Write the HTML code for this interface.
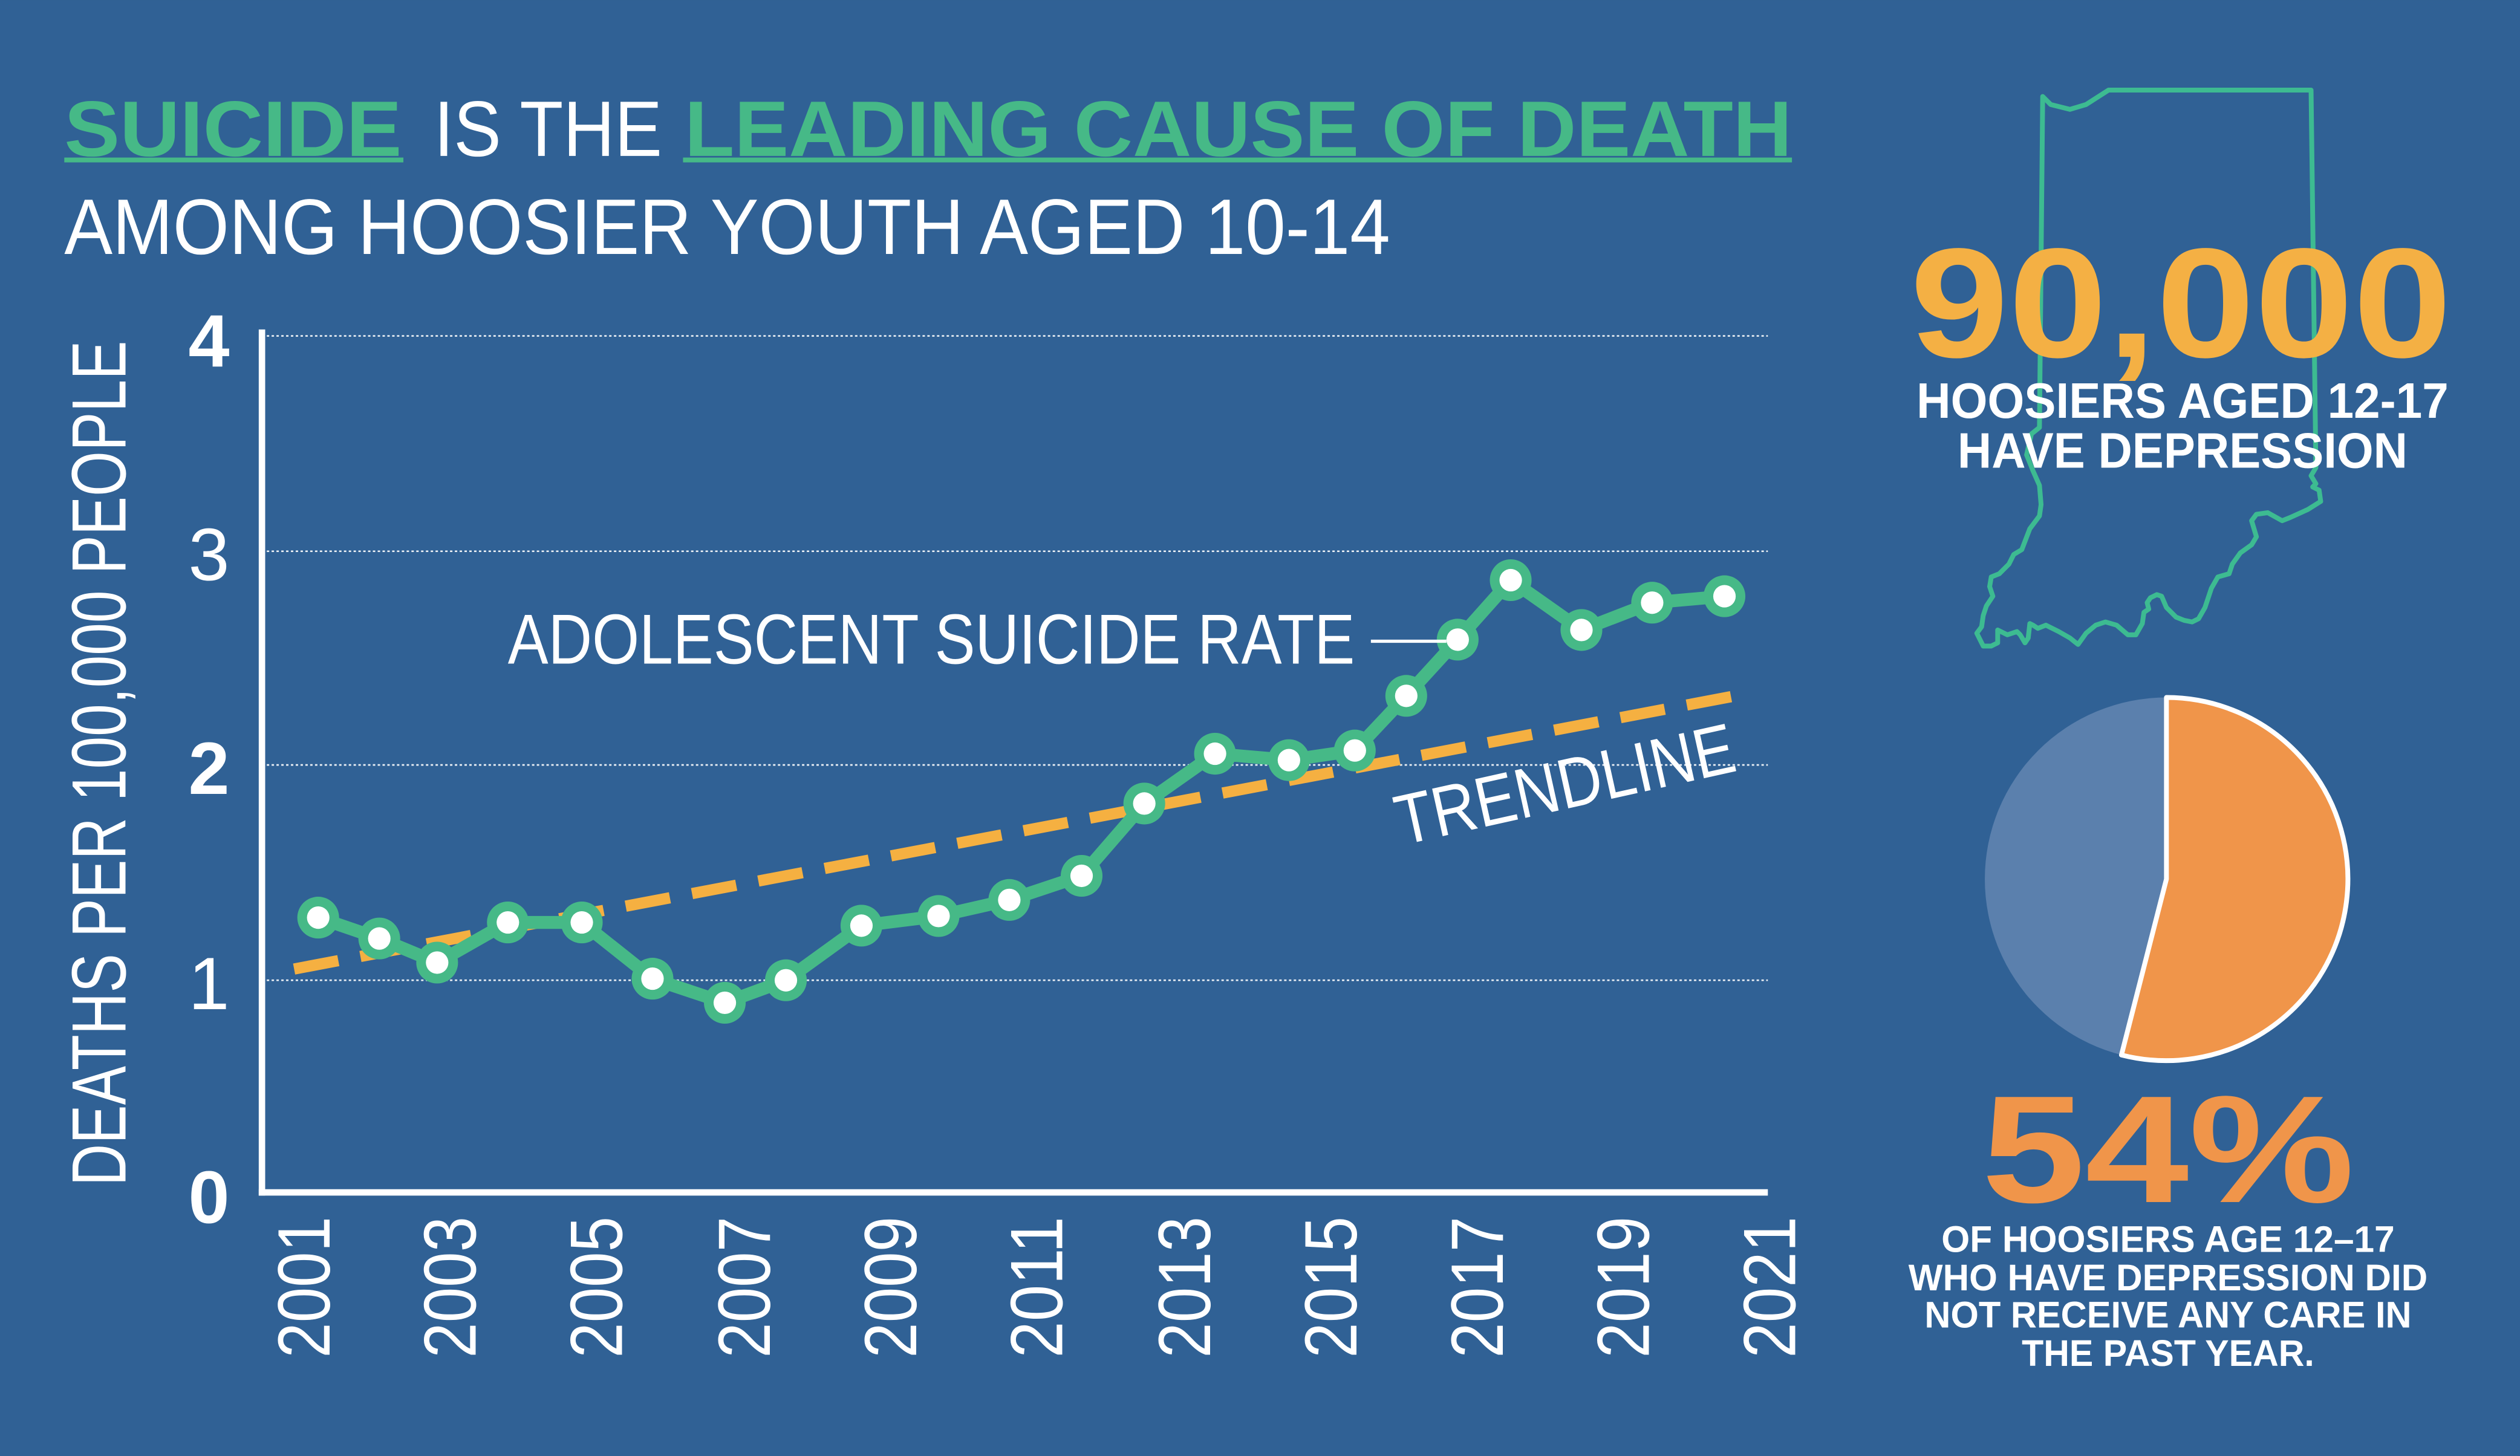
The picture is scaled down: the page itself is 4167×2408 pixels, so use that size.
<!DOCTYPE html>
<html><head><meta charset="utf-8"><style>
html,body{margin:0;padding:0;background:#306195;}
svg{display:block;}
</style></head><body>
<svg width="4167" height="2408" viewBox="0 0 1568 906" xmlns="http://www.w3.org/2000/svg">
<rect width="1568" height="906" fill="#306195"/>
<!-- Title -->
<g font-family="Liberation Sans Narrow, Liberation Sans, sans-serif">
<text x="40" y="97" font-size="49" font-weight="bold" fill="#46b987" textLength="210" lengthAdjust="spacingAndGlyphs">SUICIDE</text>
<text x="270" y="97" font-size="49" fill="#ffffff" textLength="142" lengthAdjust="spacingAndGlyphs">IS THE</text>
<text x="426" y="97" font-size="49" font-weight="bold" fill="#46b987" textLength="689" lengthAdjust="spacingAndGlyphs">LEADING CAUSE OF DEATH</text>
<rect x="40" y="98" width="211" height="3" fill="#46b987"/>
<rect x="425" y="98" width="690" height="3" fill="#46b987"/>
<text x="40" y="158" font-size="49" fill="#ffffff" textLength="825" lengthAdjust="spacingAndGlyphs">AMONG HOOSIER YOUTH AGED 10-14</text>
<!-- Y axis label -->
<text transform="translate(78,475) rotate(-90)" text-anchor="middle" font-size="48" fill="#ffffff" textLength="526" lengthAdjust="spacingAndGlyphs">DEATHS PER 100,000 PEOPLE</text>
</g>
<!-- Grid -->
<g stroke="#ffffff" stroke-width="1" stroke-dasharray="1.5 1.5" opacity="0.9">
<line x1="163" y1="209" x2="1100" y2="209"/>
<line x1="163" y1="343" x2="1100" y2="343"/>
<line x1="163" y1="476" x2="1100" y2="476"/>
<line x1="163" y1="610" x2="1100" y2="610"/>
</g>
<line x1="163" y1="205" x2="163" y2="744" stroke="#fff" stroke-width="4"/>
<line x1="161" y1="742" x2="1100" y2="742" stroke="#fff" stroke-width="4"/>
<!-- Y ticks -->
<g font-family="Liberation Sans, sans-serif" font-size="46" fill="#fff" text-anchor="middle">
<text x="130" y="228" font-weight="bold">4</text>
<text x="130" y="361">3</text>
<text x="130" y="494" font-weight="bold">2</text>
<text x="130" y="628">1</text>
<text x="130" y="761" font-weight="bold">0</text>
</g>
<!-- X ticks -->
<g font-family="Liberation Sans Narrow, Liberation Sans, sans-serif" font-size="46" fill="#fff" text-anchor="end">
<text transform="translate(205,757) rotate(-90)" textLength="88" lengthAdjust="spacingAndGlyphs">2001</text>
<text transform="translate(296,757) rotate(-90)" textLength="88" lengthAdjust="spacingAndGlyphs">2003</text>
<text transform="translate(387,757) rotate(-90)" textLength="88" lengthAdjust="spacingAndGlyphs">2005</text>
<text transform="translate(479,757) rotate(-90)" textLength="88" lengthAdjust="spacingAndGlyphs">2007</text>
<text transform="translate(570,757) rotate(-90)" textLength="88" lengthAdjust="spacingAndGlyphs">2009</text>
<text transform="translate(661,757) rotate(-90)" textLength="88" lengthAdjust="spacingAndGlyphs">2011</text>
<text transform="translate(753,757) rotate(-90)" textLength="88" lengthAdjust="spacingAndGlyphs">2013</text>
<text transform="translate(844,757) rotate(-90)" textLength="88" lengthAdjust="spacingAndGlyphs">2015</text>
<text transform="translate(935,757) rotate(-90)" textLength="88" lengthAdjust="spacingAndGlyphs">2017</text>
<text transform="translate(1026,757) rotate(-90)" textLength="88" lengthAdjust="spacingAndGlyphs">2019</text>
<text transform="translate(1117,757) rotate(-90)" textLength="88" lengthAdjust="spacingAndGlyphs">2021</text>
</g>
<!-- Trendline -->
<line x1="183" y1="603" x2="1085" y2="432" stroke="#f5b041" stroke-width="7" stroke-dasharray="28 14"/>
<!-- Data -->
<polyline fill="none" stroke="#46b987" stroke-width="8" stroke-linejoin="round" points="198,571 236,584 272,599 316,574 362,574 406,609 451,624 489,610 536,576 584,570 628,560 673,545 712,500 756,469 802,473 843,467 875,433 907,398 940,361 984,392 1028,375 1073,371"/>
<g fill="#46b987">
<circle cx="198" cy="571" r="13"/><circle cx="236" cy="584" r="13"/><circle cx="272" cy="599" r="13"/><circle cx="316" cy="574" r="13"/><circle cx="362" cy="574" r="13"/><circle cx="406" cy="609" r="13"/><circle cx="451" cy="624" r="13"/><circle cx="489" cy="610" r="13"/><circle cx="536" cy="576" r="13"/><circle cx="584" cy="570" r="13"/><circle cx="628" cy="560" r="13"/><circle cx="673" cy="545" r="13"/><circle cx="712" cy="500" r="13"/><circle cx="756" cy="469" r="13"/><circle cx="802" cy="473" r="13"/><circle cx="843" cy="467" r="13"/><circle cx="875" cy="433" r="13"/><circle cx="907" cy="398" r="13"/><circle cx="940" cy="361" r="13"/><circle cx="984" cy="392" r="13"/><circle cx="1028" cy="375" r="13"/><circle cx="1073" cy="371" r="13"/>
</g>
<g fill="#ffffff">
<circle cx="198" cy="571" r="7"/><circle cx="236" cy="584" r="7"/><circle cx="272" cy="599" r="7"/><circle cx="316" cy="574" r="7"/><circle cx="362" cy="574" r="7"/><circle cx="406" cy="609" r="7"/><circle cx="451" cy="624" r="7"/><circle cx="489" cy="610" r="7"/><circle cx="536" cy="576" r="7"/><circle cx="584" cy="570" r="7"/><circle cx="628" cy="560" r="7"/><circle cx="673" cy="545" r="7"/><circle cx="712" cy="500" r="7"/><circle cx="756" cy="469" r="7"/><circle cx="802" cy="473" r="7"/><circle cx="843" cy="467" r="7"/><circle cx="875" cy="433" r="7"/><circle cx="907" cy="398" r="7"/><circle cx="940" cy="361" r="7"/><circle cx="984" cy="392" r="7"/><circle cx="1028" cy="375" r="7"/><circle cx="1073" cy="371" r="7"/>
</g>
<!-- Annotations -->
<g font-family="Liberation Sans Narrow, Liberation Sans, sans-serif" fill="#fff">
<text x="316" y="413" font-size="44" textLength="527" lengthAdjust="spacingAndGlyphs">ADOLESCENT SUICIDE RATE</text>
<text transform="translate(872,526) rotate(-12.5)" font-size="44" textLength="215" lengthAdjust="spacingAndGlyphs">TRENDLINE</text>
</g>
<line x1="853" y1="399" x2="900" y2="399" stroke="#fff" stroke-width="2"/>
<!-- Indiana -->
<polygon fill="none" stroke="#3dbb91" stroke-width="3" stroke-linejoin="round" points="1271,60 1276,65 1288,68 1298,65 1312,56 1438,56 1441,291 1438,296 1441,301 1439,303 1443,305 1444,312 1436,317 1425,322 1420,324 1411,319 1404,320 1401,324 1404,334 1401,339 1394,344 1389,351 1387,357 1380,359 1376,366 1372,378 1368,385 1364,387 1359,386 1354,384 1348,378 1345,371 1342,370 1338,372 1336,375 1337,379 1334,381 1333,388 1329,395 1324,395 1317,389 1310,387 1304,389 1298,394 1293,401 1288,397 1281,393 1273,389 1268,391 1265,389 1263,388 1262,397 1260,400 1257,395 1255,393 1249,395 1243,392 1243,400 1239,402 1234,402 1230,394 1233,390 1234,383 1236,377 1240,371 1238,365 1239,359 1244,357 1250,351 1253,345 1258,342 1263,329 1269,321 1270,314 1269,302 1265,293 1261,283 1264,270 1269,266"/>
<!-- Right texts -->
<g font-family="Liberation Sans, sans-serif" font-weight="bold" text-anchor="middle">
<text x="1357" y="222" font-size="97" fill="#f4b044" textLength="337" lengthAdjust="spacingAndGlyphs">90,000</text>
<text x="1358" y="260" font-size="31" fill="#fff" textLength="331" lengthAdjust="spacingAndGlyphs">HOOSIERS AGED 12-17</text>
<text x="1358" y="291" font-size="31" fill="#fff" textLength="280" lengthAdjust="spacingAndGlyphs">HAVE DEPRESSION</text>
<text x="1349" y="748" font-size="95" fill="#f0954a" textLength="232" lengthAdjust="spacingAndGlyphs">54%</text>
<text x="1349" y="779" font-size="23" fill="#fff" textLength="282" lengthAdjust="spacingAndGlyphs">OF HOOSIERS AGE 12–17</text>
<text x="1349" y="803" font-size="23" fill="#fff" textLength="323" lengthAdjust="spacingAndGlyphs">WHO HAVE DEPRESSION DID</text>
<text x="1349" y="826" font-size="23" fill="#fff" textLength="303" lengthAdjust="spacingAndGlyphs">NOT RECEIVE ANY CARE IN</text>
<text x="1349" y="850" font-size="23" fill="#fff" textLength="182" lengthAdjust="spacingAndGlyphs">THE PAST YEAR.</text>
</g>
<!-- Pie -->
<circle cx="1348" cy="547" r="113" fill="#5b80ad"/>
<path d="M1348,547 L1348,434 A113,113 0 1 1 1320,656.5 Z" fill="#f0954a" stroke="#fff" stroke-width="3" stroke-linejoin="round"/>
</svg>
</body></html>
